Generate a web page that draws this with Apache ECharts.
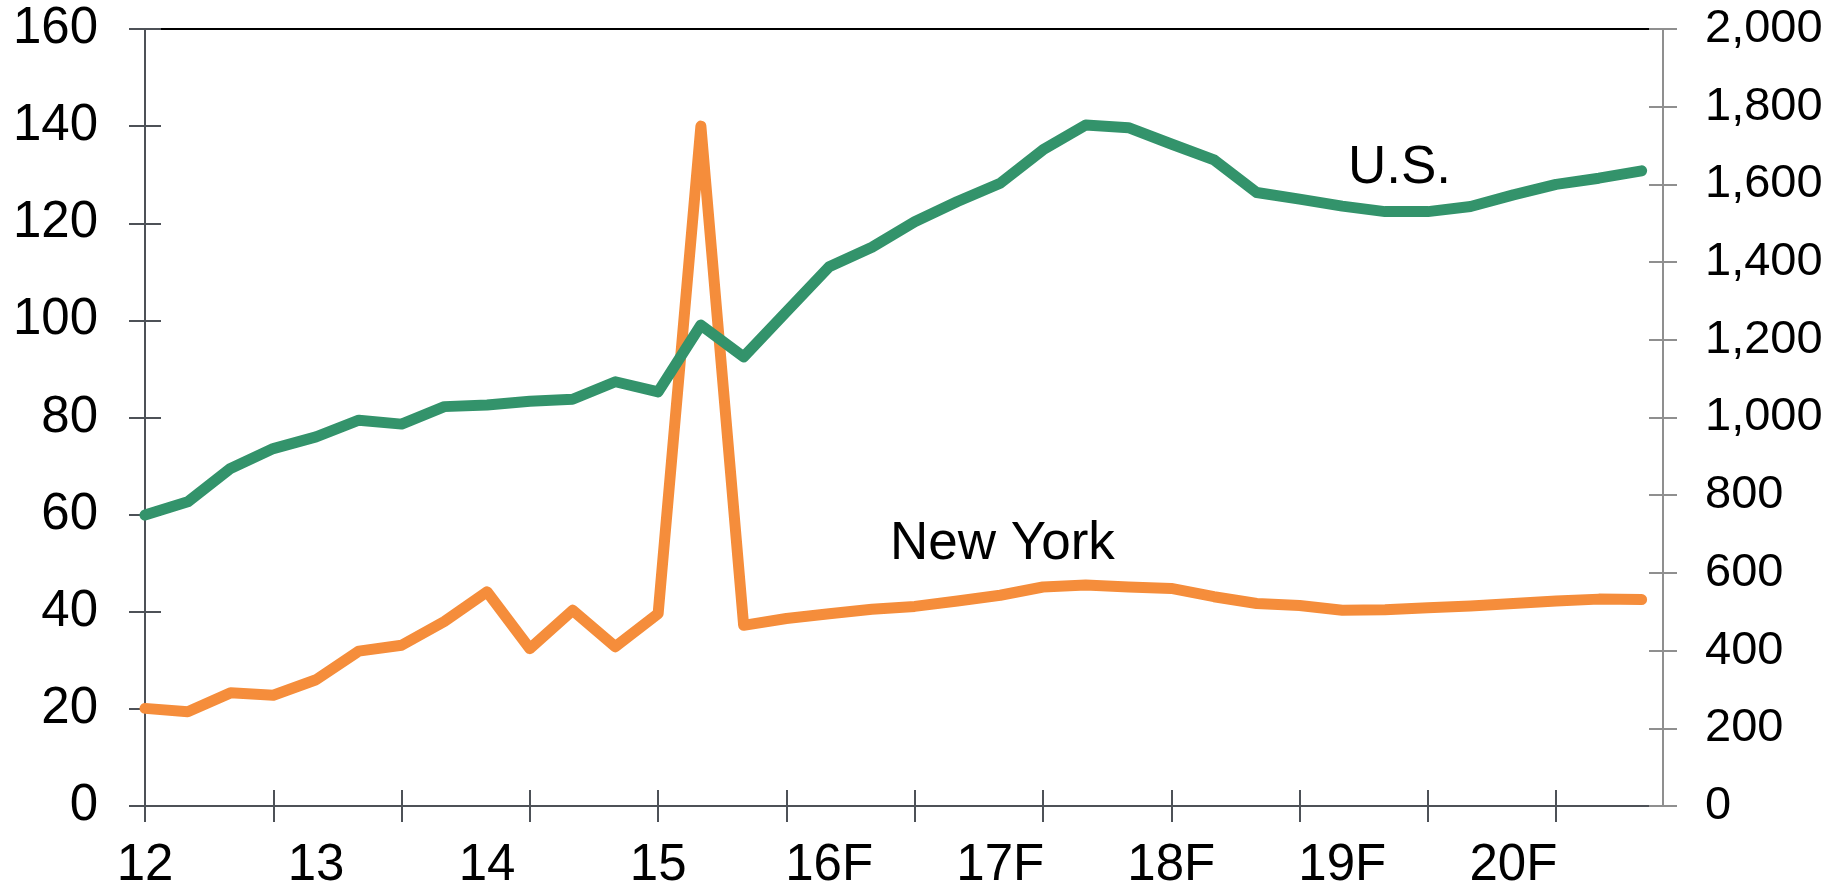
<!DOCTYPE html>
<html>
<head>
<meta charset="utf-8">
<title>New York vs U.S.</title>
<script src="https://cdn.jsdelivr.net/npm/echarts@6/dist/echarts.min.js"></script>
<style>
  html, body { margin: 0; padding: 0; background: #fff; }
  #main { width: 1842px; height: 893px; }
</style>
</head>
<body>
<div id="main"></div>
<script>
// quarterly points, 2012Q1 .. 2020Q4
var quarters = ['12Q1','12Q2','12Q3','12Q4','13Q1','13Q2','13Q3','13Q4','14Q1','14Q2','14Q3','14Q4',
                '15Q1','15Q2','15Q3','15Q4','16Q1','16Q2','16Q3','16Q4','17Q1','17Q2','17Q3','17Q4',
                '18Q1','18Q2','18Q3','18Q4','19Q1','19Q2','19Q3','19Q4','20Q1','20Q2','20Q3','20Q4'];
var yearLabels = ['12', '13', '14', '15', '16F', '17F', '18F', '19F', '20F'];

// New York (left axis)
var nyValues = [20.1, 19.4, 23.3, 22.8, 26.0, 31.9, 33.1, 38.0, 44.1, 32.4, 40.3, 32.8,
                39.6, 140, 37.2, 38.6, 39.6, 40.5, 41.1, 42.2, 43.4, 45.1, 45.5, 45.1,
                44.8, 43.1, 41.7, 41.3, 40.3, 40.4, 40.8, 41.2, 41.7, 42.2, 42.6, 42.5];
// U.S. (right axis)
var usValues = [749, 783, 869, 920, 950, 993, 983, 1028, 1032, 1042, 1047, 1092,
                1066, 1238, 1156, 1272, 1388, 1438, 1504, 1556, 1603, 1689, 1753, 1746,
                1704, 1663, 1579, 1562, 1544, 1530, 1530, 1543, 1573, 1600, 1616, 1635];

var font = '"Liberation Sans", Arial, sans-serif';
var axisGray = '#4d5157';
var rightGray = '#8f8f8f';

function toPairs(arr) {
  return arr.map(function (v, i) { return [i, v]; });
}

// ticks every 3 quarters, labels every 4
var tickPos = [];
for (var i = 0; i < quarters.length; i += 3) tickPos.push(i);
var labelPos = [];
for (var j = 0; j < quarters.length; j += 4) labelPos.push(j);

var xMax = quarters.length - 0.5;

var myChart = echarts.init(document.getElementById('main'));

var option = {
  animation: false,
  backgroundColor: '#fff',
  grid: { left: 145, right: 179, top: 29, bottom: 87 },
  xAxis: [
    {
      type: 'value', min: 0, max: xMax, position: 'bottom', offset: 0,
      axisLine: { onZero: false, lineStyle: { color: axisGray, width: 2 } },
      axisTick: { customValues: tickPos, length: 16, lineStyle: { color: axisGray, width: 2 } },
      axisLabel: {
        customValues: labelPos, margin: 34, fontSize: 51, color: '#000', fontFamily: font,
        formatter: function (v) { return yearLabels[v / 4]; }
      },
      splitLine: { show: false }
    },
    {
      // inner half of the crossing ticks
      type: 'value', min: 0, max: xMax, position: 'bottom', offset: 0,
      axisLine: { show: false, onZero: false },
      axisTick: { customValues: tickPos, inside: true, length: 16, lineStyle: { color: axisGray, width: 2 } },
      axisLabel: { show: false },
      splitLine: { show: false }
    },
    {
      // black frame line on top
      type: 'value', min: 0, max: xMax, position: 'top', offset: 0,
      axisLine: { onZero: false, lineStyle: { color: '#000', width: 2 } },
      axisTick: { show: false },
      axisLabel: { show: false },
      splitLine: { show: false }
    }
  ],
  yAxis: [
    {
      type: 'value', min: 0, max: 160, interval: 20, position: 'left', offset: 0,
      axisLine: { show: true, onZero: false, lineStyle: { color: axisGray, width: 2 } },
      axisTick: { show: true, length: 16, lineStyle: { color: axisGray, width: 2 } },
      axisLabel: { margin: 47, fontSize: 51, color: '#000', fontFamily: font },
      splitLine: { show: false }
    },
    {
      type: 'value', min: 0, max: 2000, interval: 200, position: 'right', offset: 0,
      axisLine: { show: true, onZero: false, lineStyle: { color: rightGray, width: 2 } },
      axisTick: { show: true, length: 14, lineStyle: { color: rightGray, width: 2 } },
      axisLabel: {
        margin: 42, fontSize: 47, color: '#000', fontFamily: font,
        formatter: function (v) { return v.toLocaleString('en-US'); }
      },
      splitLine: { show: false }
    },
    {
      type: 'value', min: 0, max: 160, interval: 20, position: 'left', offset: 0,
      axisLine: { show: false, onZero: false },
      axisTick: { show: true, inside: true, length: 16, lineStyle: { color: axisGray, width: 2 } },
      axisLabel: { show: false },
      splitLine: { show: false }
    },
    {
      type: 'value', min: 0, max: 2000, interval: 200, position: 'right', offset: 0,
      axisLine: { show: false, onZero: false },
      axisTick: { show: true, inside: true, length: 14, lineStyle: { color: rightGray, width: 2 } },
      axisLabel: { show: false },
      splitLine: { show: false }
    }
  ],
  series: [
    {
      name: 'New York', type: 'line', xAxisIndex: 0, yAxisIndex: 0,
      data: toPairs(nyValues), showSymbol: false,
      lineStyle: { color: '#f58d3b', width: 11, cap: 'round', join: 'round' },
      z: 3
    },
    {
      name: 'U.S.', type: 'line', xAxisIndex: 0, yAxisIndex: 1,
      data: toPairs(usValues), showSymbol: false,
      lineStyle: { color: '#33936b', width: 11, cap: 'round', join: 'round' },
      z: 4
    }
  ],
  graphic: [
    { type: 'text', left: 1348, top: 142, style: { text: 'U.S.', fill: '#000', font: '53px ' + font } },
    { type: 'text', left: 890, top: 518, style: { text: 'New York', fill: '#000', font: '53px ' + font } }
  ]
};

myChart.setOption(option);
</script>
</body>
</html>
